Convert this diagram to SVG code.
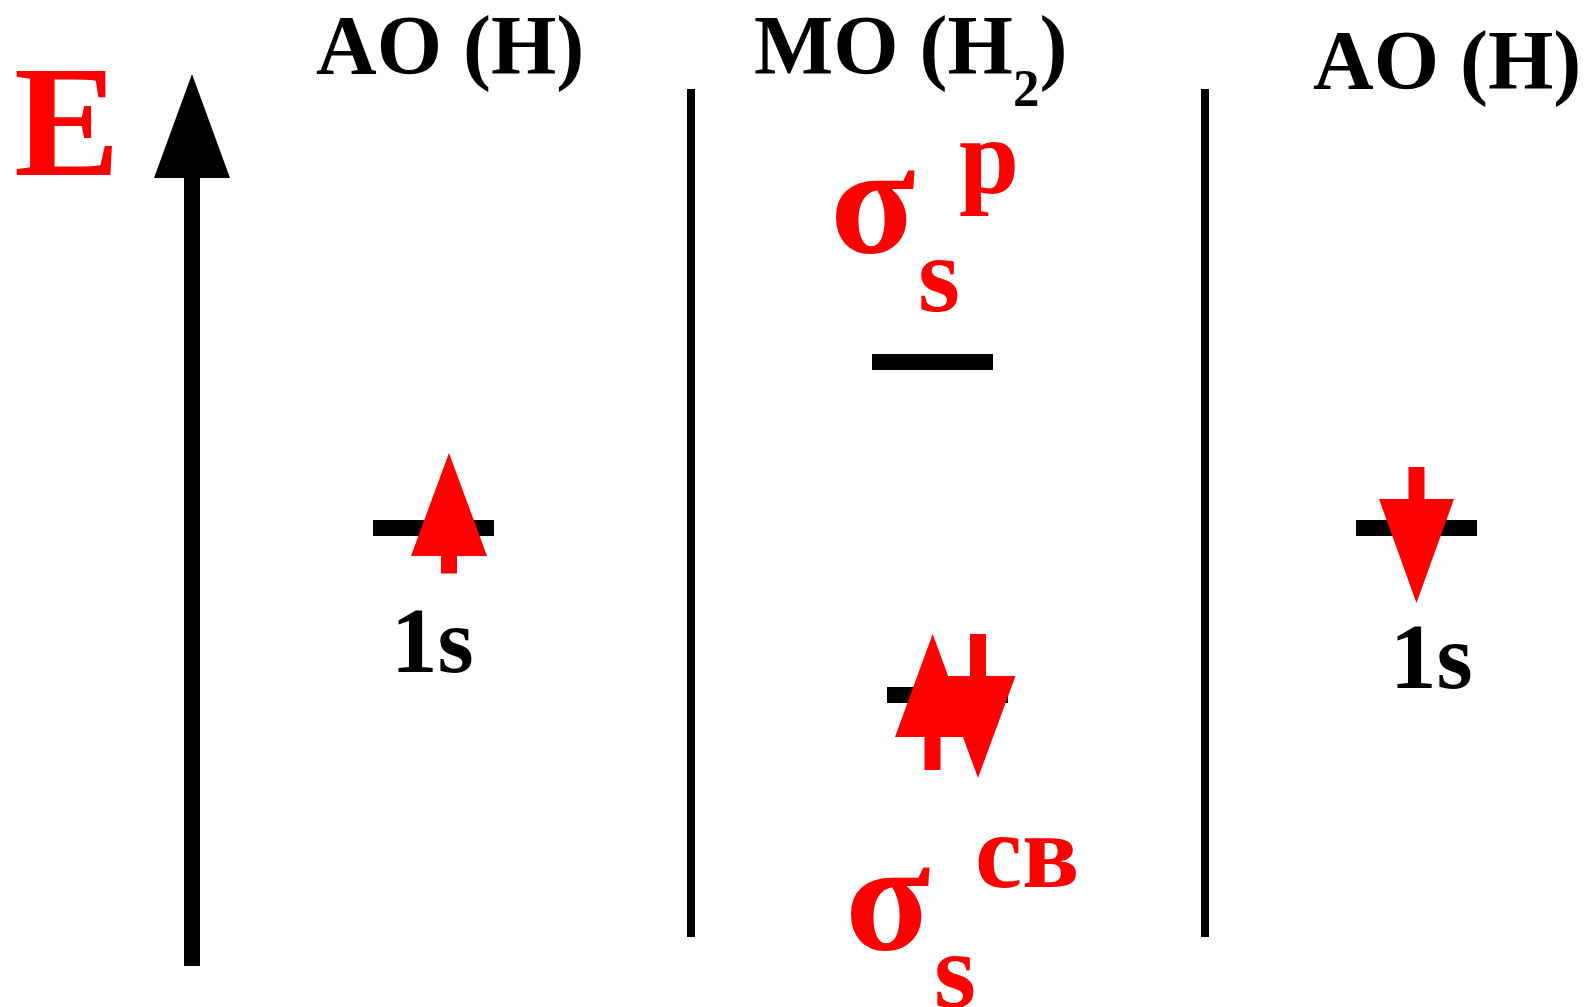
<svg xmlns="http://www.w3.org/2000/svg" width="1589" height="1007" viewBox="0 0 1589 1007">
<style>
.t{font-family:"Liberation Serif","Times New Roman",serif;font-weight:bold;}
.k{fill:#000;}
.r{fill:#f00;}
.lvl{fill:#000;}
</style>
<rect width="1589" height="1007" fill="#fff"/>
<g id="axis">
<text class="t r" x="14" y="175" font-size="159">E</text>
<rect x="184" y="176" width="16" height="790" fill="#000"/>
<polygon points="192,74 154,178 230,178" fill="#000"/>
</g>
<g id="headers">
<text class="t k" x="316" y="74" font-size="84">AO (H)</text>
<text class="t k" x="754" y="74" font-size="84">MO (H<tspan font-size="53" dy="32">2</tspan><tspan dy="-32">)</tspan></text>
<text class="t k" x="1313" y="89" font-size="84">AO (H)</text>
</g>
<g id="separators">
<rect x="687" y="89" width="8" height="848" fill="#000"/>
<rect x="1201" y="89" width="8" height="848" fill="#000"/>
</g>
<g id="ao-left">
<rect class="lvl" x="373" y="520" width="121" height="16"/>
<rect x="441" y="550" width="16" height="23.5" fill="#f00"/>
<polygon points="449,453 411,556 487,556" fill="#f00"/>
<text class="t k" x="391" y="672" font-size="93">1s</text>
</g>
<g id="ao-right">
<rect class="lvl" x="1356" y="520" width="121" height="16"/>
<rect x="1408.5" y="467" width="16" height="36" fill="#f00"/>
<polygon points="1379,499 1454,499 1416.5,603" fill="#f00"/>
<text class="t k" x="1390" y="688" font-size="93">1s</text>
</g>
<g id="mo-antibonding">
<rect class="lvl" x="872" y="354" width="121" height="16"/>
<text class="t r" x="830" y="252" font-size="157">σ</text>
<text class="t r" x="959" y="193" font-size="108">р</text>
<text class="t r" x="918" y="311" font-size="108">s</text>
</g>
<g id="mo-bonding">
<rect class="lvl" x="887" y="687" width="121" height="16"/>
<rect x="924.5" y="730" width="16" height="40" fill="#f00"/>
<polygon points="932.7,634 895,737 970.5,737" fill="#f00"/>
<rect x="970" y="634" width="16" height="45" fill="#f00"/>
<polygon points="940.5,676 1015.5,676 978,778" fill="#f00"/>
<text class="t r" x="845" y="949" font-size="157">σ</text>
<text class="t r" x="975" y="887" font-size="106">св</text>
<text class="t r" x="934" y="1007" font-size="108">s</text>
</g>
</svg>
